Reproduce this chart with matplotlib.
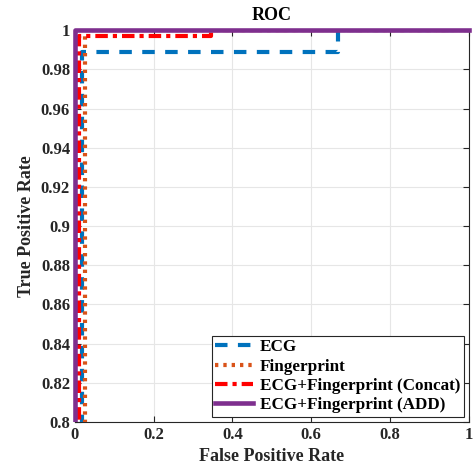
import matplotlib
matplotlib.use("Agg")
import matplotlib.pyplot as plt
from matplotlib.patches import Rectangle

plt.rcParams['font.family'] = ['Liberation Serif', 'DejaVu Serif']
plt.rcParams['font.weight'] = 'bold'

ecg_fpr = [0.0, 0.018, 0.018, 0.667, 0.667, 1.0]
ecg_tpr = [0.0, 0.0, 0.989, 0.989, 1.0, 1.0]
fp_fpr = [0.0, 0.025, 0.025, 1.0]
fp_tpr = [0.0, 0.0, 1.0, 1.0]
cat_fpr = [0.0, 0.011, 0.011, 0.345, 0.345, 1.0]
cat_tpr = [0.0, 0.0, 0.997, 0.997, 1.0, 1.0]
add_fpr = [0.0, 0.0, 1.0]
add_tpr = [0.0, 1.0, 1.0]

labels = ['ECG', 'Fingerprint', 'ECG+Fingerprint (Concat)', 'ECG+Fingerprint (ADD)']
xticks = [0, 0.2, 0.4, 0.6, 0.8, 1]
yticks = [0.8, 0.82, 0.84, 0.86, 0.88, 0.9, 0.92, 0.94, 0.96, 0.98, 1]

fig = plt.figure(figsize=(4.74, 4.72), dpi=100)
ax = fig.add_axes([0.158, 0.106, 0.831, 0.830])

ax.plot(ecg_fpr, ecg_tpr, color='#0072BD', linestyle=(0, (3, 2.5)), linewidth=3, label=labels[0], zorder=3)
ax.plot(fp_fpr, fp_tpr, color='#D95319', linestyle=(0, (0.8, 1.2)), linewidth=3, label=labels[1], zorder=3)
ax.plot(cat_fpr, cat_tpr, color='#FF0000', linestyle=(0, (3, 1.2, 1, 1.2)), linewidth=3, label=labels[2], zorder=3)
add_line, = ax.plot(add_fpr, add_tpr, color='#7E2F8E', linewidth=3.3, label=labels[3], zorder=4)
clip_rect = Rectangle((-0.05, 0), 1.1, 1.05, transform=ax.transAxes, facecolor='none', edgecolor='none')
add_line.set_clip_path(clip_rect)

ax.set_xlim(0, 1)
ax.set_ylim(0.8, 1)
ax.set_xticks(xticks)
ax.set_xticklabels(['0', '0.2', '0.4', '0.6', '0.8', '1'])
ax.set_yticks(yticks)
ax.set_yticklabels(['0.8', '0.82', '0.84', '0.86', '0.88', '0.9', '0.92', '0.94', '0.96', '0.98', '1'])
ax.grid(True, color='#e6e6e6', linewidth=0.8)
ax.set_axisbelow(True)
ax.tick_params(direction='in', top=True, right=True, labelsize=12, length=4, width=0.8, colors='#262626')
for lab in ax.get_xticklabels() + ax.get_yticklabels():
    lab.set_fontweight('bold')
for s in ax.spines.values():
    s.set_color('#262626')
    s.set_linewidth(0.8)
    s.set_zorder(2.5)

ax.set_xlabel('False Positive Rate', fontsize=13, fontweight='bold', color='#262626')
ax.set_ylabel('True Positive Rate', fontsize=13, fontweight='bold', color='#262626')
ax.set_title('ROC', fontsize=13, fontweight='bold', pad=7)

leg = ax.legend(loc='lower right', fontsize=12.3, frameon=True, fancybox=False,
                edgecolor='#262626', framealpha=1, borderaxespad=0.3, handlelength=2.2,
                handletextpad=0.4, labelspacing=0.2, borderpad=0.2)
leg.get_frame().set_linewidth(0.8)
leg.set_zorder(5)
for t in leg.get_texts():
    t.set_fontweight('bold')

fig.savefig('out.png', dpi=100)
